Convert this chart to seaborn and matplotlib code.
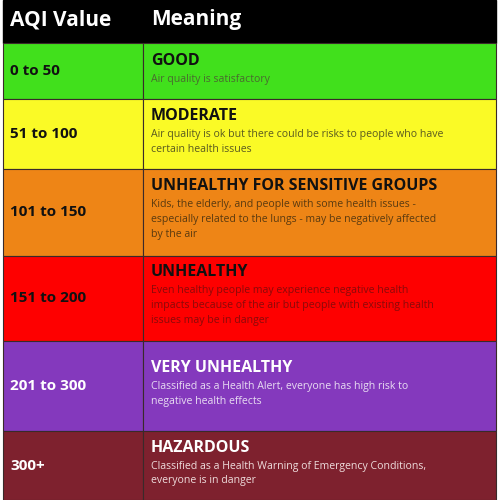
import matplotlib
matplotlib.use("Agg")
import matplotlib.pyplot as plt
import seaborn as sns

ranges = ["0 to 50", "51 to 100", "101 to 150", "151 to 200", "201 to 300", "300+"]
titles = ["GOOD", "MODERATE", "UNHEALTHY FOR SENSITIVE GROUPS", "UNHEALTHY",
          "VERY UNHEALTHY", "HAZARDOUS"]
descs = [
    "Air quality is satisfactory",
    "Air quality is ok but there could be risks to people who have\ncertain health issues",
    "Kids, the elderly, and people with some health issues -\nespecially related to the lungs - may be negatively affected\nby the air",
    "Even healthy people may experience negative health\nimpacts because of the air but people with existing health\nissues may be in danger",
    "Classified as a Health Alert, everyone has high risk to\nnegative health effects",
    "Classified as a Health Warning of Emergency Conditions,\neveryone is in danger",
]
colors = ["#41E01C", "#FAFA26", "#EE8516", "#FE0000", "#8439BD", "#7E212E"]
label_colors = ["#111111", "#111111", "#111111", "#111111", "white", "white"]
title_colors = ["#111111", "#111111", "#111111", "#111111", "white", "white"]
desc_colors = ["#4a6a30", "#5a5a20", "#5a3a10", "#8a0a0a", "#e8dcf2", "#eedcdc"]
headers = ["AQI Value", "Meaning"]

sns.set_theme(style="white")
plt.rcParams["font.family"] = ["Open Sans", "DejaVu Sans"]

fig = plt.figure(figsize=(5, 5), dpi=100)
ax = fig.add_axes([0, 0, 1, 1])
ax.set_xlim(0, 500)
ax.set_ylim(500, 0)
ax.axis("off")

bounds = [43, 99, 169, 256, 341, 431, 500]
x0, xm, x1 = 3, 143, 496
edge = "#3a2a2a"

# header
ax.barh(21.5, x1 - x0, left=x0, height=43, color="black", edgecolor="black")
ax.text(10, 20, headers[0], color="white", fontsize=15, fontweight="bold", va="center")
ax.text(151, 20, headers[1], color="white", fontsize=15, fontweight="bold", va="center")

for i in range(len(ranges)):
    top, bot = bounds[i], bounds[i + 1]
    h = bot - top
    c = (top + bot) / 2
    ax.barh(c, xm - x0, left=x0, height=h, color=colors[i], edgecolor=edge, linewidth=0.8)
    ax.barh(c, x1 - xm, left=xm, height=h, color=colors[i], edgecolor=edge, linewidth=0.8)
    ax.text(10, c, ranges[i], color=label_colors[i], fontsize=11, fontweight="bold", va="center")
    nlines = descs[i].count("\n") + 1
    block = 20 + 16 * nlines
    ty = c - block / 2
    ax.text(151, ty, titles[i], color=title_colors[i], fontsize=11.5, fontweight="bold", va="top")
    ax.text(151, ty + 21, descs[i], color=desc_colors[i], fontsize=7.6, va="top", linespacing=1.45)

fig.savefig("out.png", dpi=100)
